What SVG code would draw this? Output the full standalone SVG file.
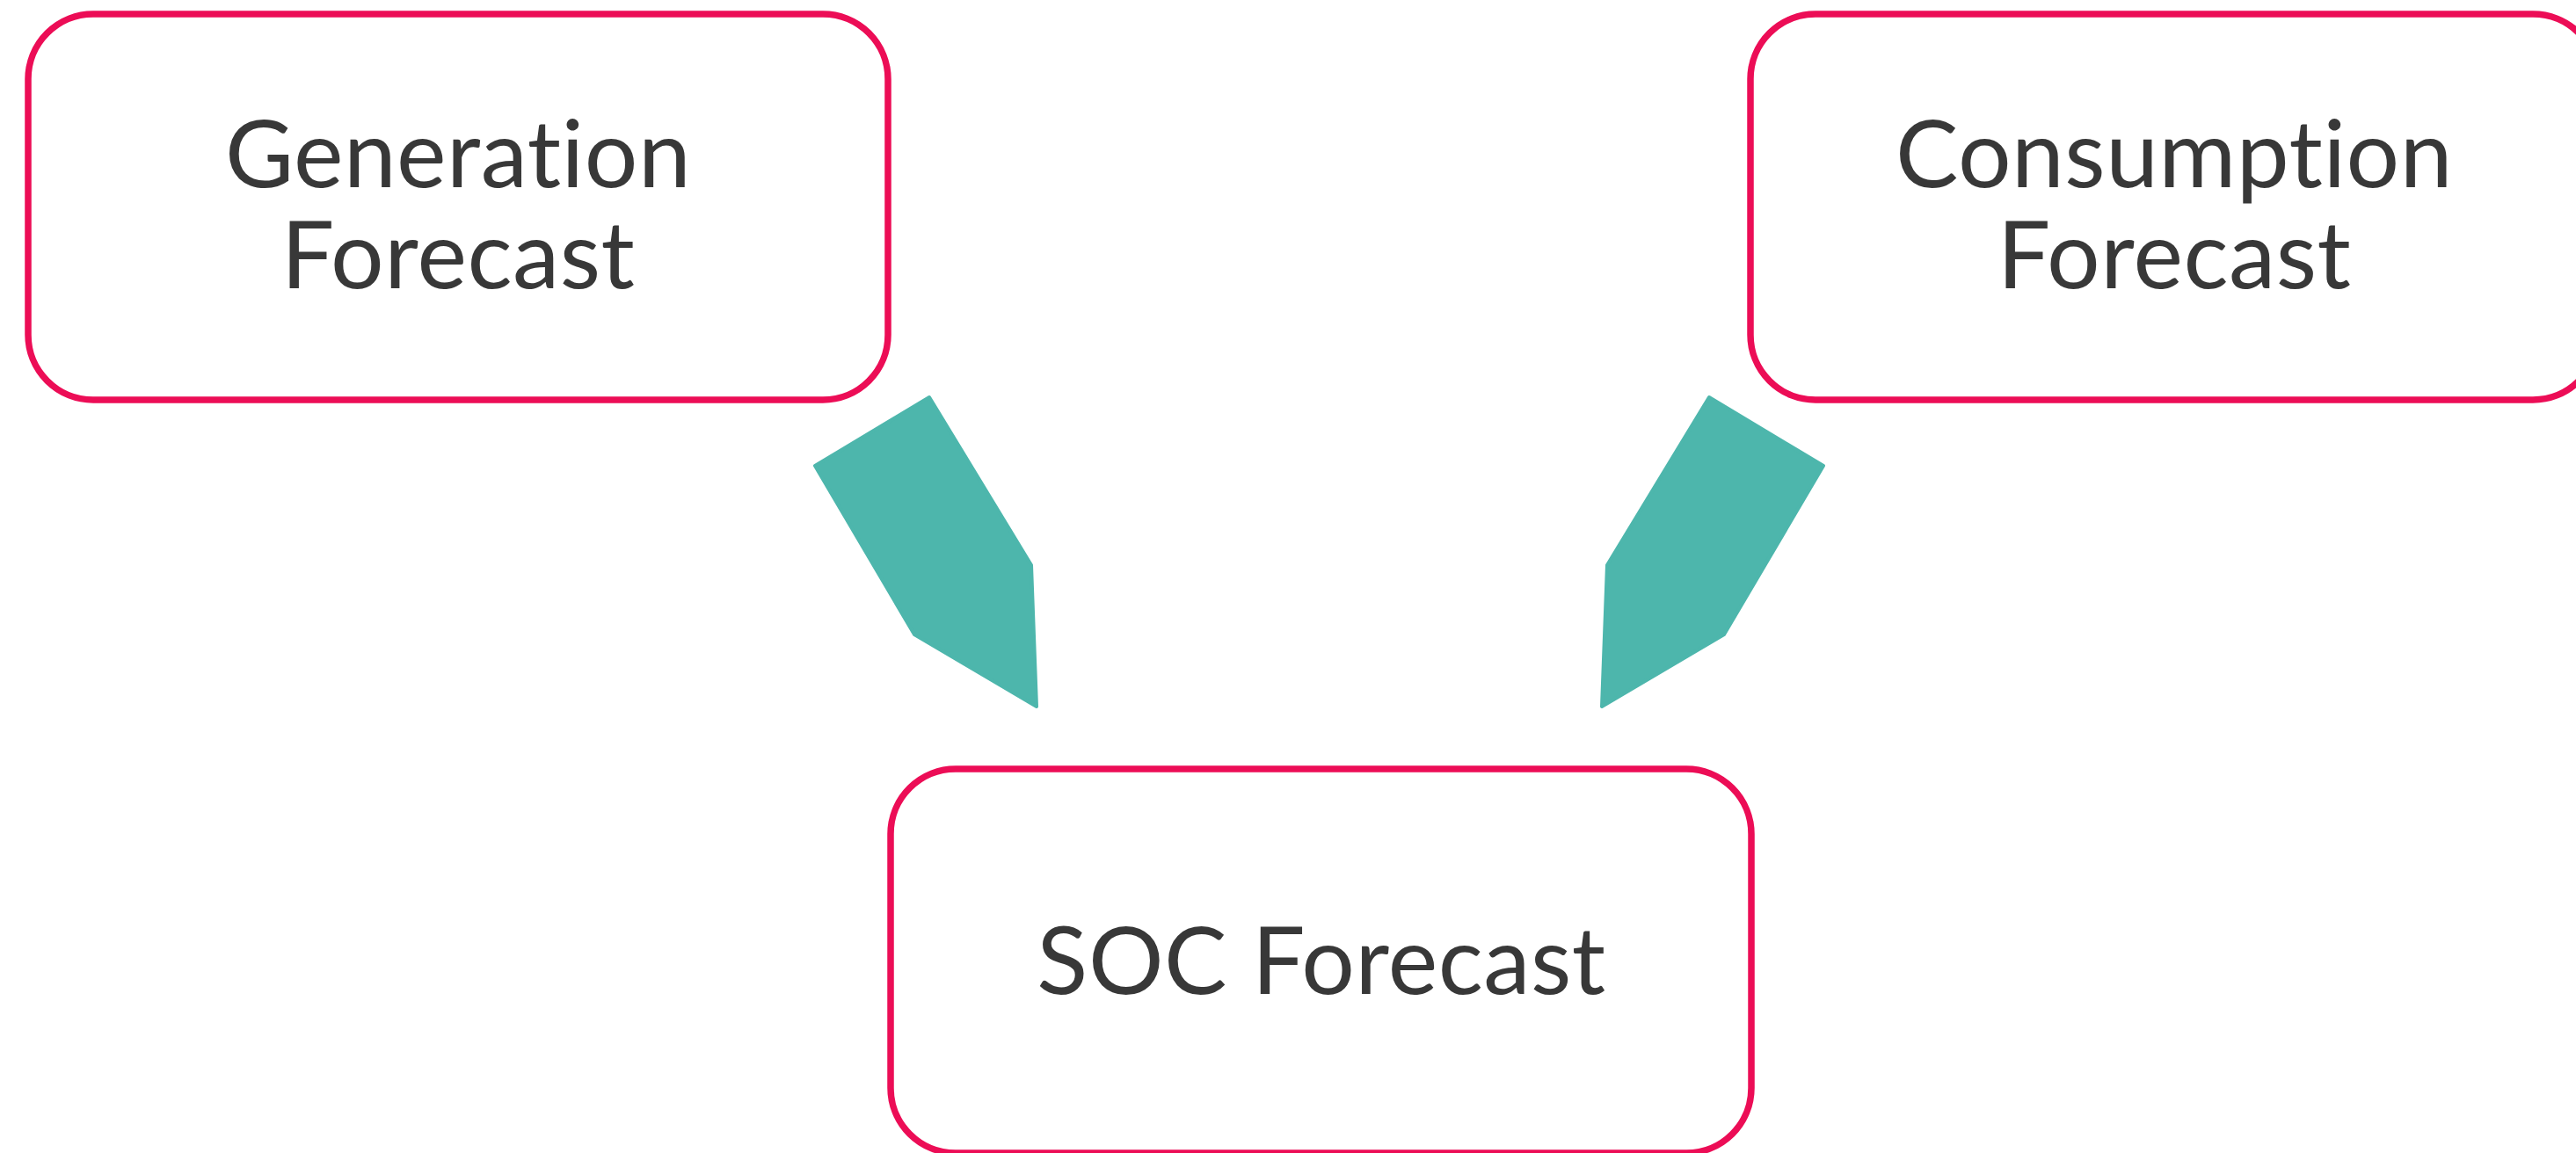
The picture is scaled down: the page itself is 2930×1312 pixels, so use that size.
<svg xmlns="http://www.w3.org/2000/svg" width="2930" height="1312" viewBox="0 0 2930 1312">
<style>
.box{fill:#ffffff;stroke:#EC0D56;stroke-width:7.5}
.lbl{font-family:Lato,"Liberation Sans",sans-serif;font-size:107px;fill:#383838;text-anchor:middle;font-variant-ligatures:none;font-feature-settings:"liga" 0;letter-spacing:0.5px}
.arr{fill:#4DB6AC;stroke:#4DB6AC;stroke-width:4;stroke-linejoin:round}
</style>
<rect width="2930" height="1312" fill="#ffffff"/>
<g id="connectors">
<polygon class="arr" points="1057,452 927,530 1040,722 1179,804 1173,643"/>
<polygon class="arr" points="1944,452 2074,530 1961,722 1822,804 1828,643"/>
</g>
<g id="node-generation">
<rect class="box" x="32" y="16" width="978" height="439" rx="74" ry="74"/>
<text class="lbl" x="521" y="213">Generation</text>
<text class="lbl" x="521" y="328">Forecast</text>
</g>
<g id="node-consumption">
<rect class="box" x="1991" y="16" width="964" height="439" rx="74" ry="74"/>
<text class="lbl" x="2473" y="213">Consumption</text>
<text class="lbl" x="2473" y="328">Forecast</text>
</g>
<g id="node-soc">
<rect class="box" x="1013" y="875" width="979" height="437" rx="74" ry="74"/>
<text class="lbl" x="1503" y="1131">SOC Forecast</text>
</g>
</svg>
